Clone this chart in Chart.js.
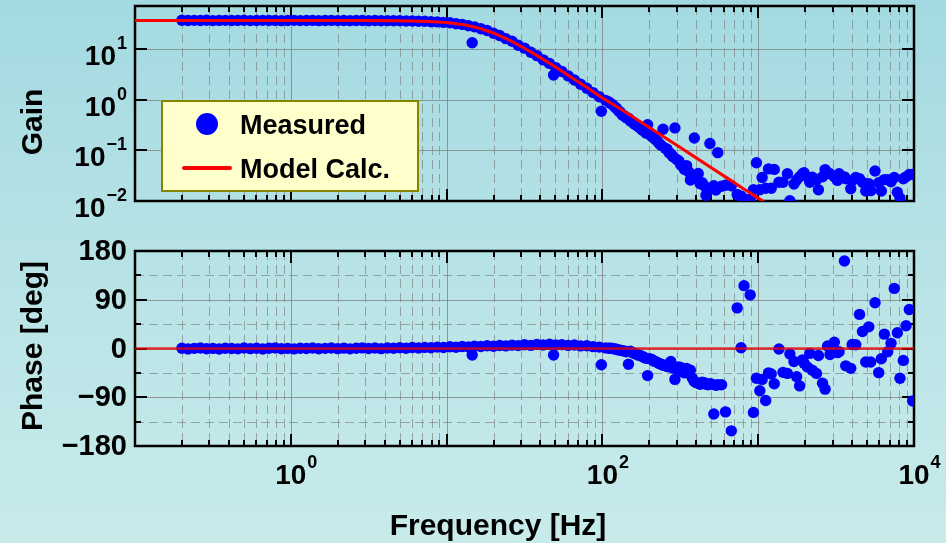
<!DOCTYPE html>
<html><head><meta charset="utf-8">
<script src="https://cdn.jsdelivr.net/npm/chart.js@4.4.1/dist/chart.umd.min.js"></script>
<style>
html,body{margin:0;padding:0;}
body{width:946px;height:543px;overflow:hidden;position:relative;background:linear-gradient(to bottom,#a3dae1 0%,#b8e3e6 50%,#c8ebeb 100%);}
canvas{position:absolute;left:0;}
#gain{top:0;}
#phase{top:230px;}
</style></head><body>
<canvas id="gain" width="946" height="230"></canvas>
<canvas id="phase" width="946" height="313"></canvas>
<script>
// ---------------- DATA ----------------
const freq = [
0.200,0.219,0.240,0.263,0.288,0.316,0.347,0.380,0.417,0.457,
0.501,0.550,0.603,0.661,0.724,0.794,0.871,0.955,1.05,1.15,
1.26,1.38,1.51,1.66,1.82,2.00,2.19,2.40,2.63,2.88,
3.16,3.47,3.80,4.17,4.57,5.01,5.50,6.03,6.61,7.24,
7.94,8.71,9.55,10.5,11.5,12.6,13.8,14.6,15.1,16.6,
18.2,20.0,21.9,24.0,26.3,28.8,31.6,34.7,38.0,41.7,
45.7,48.6,50.1,55.0,60.3,66.1,72.4,79.4,87.1,95.5,
98.5,104.7,110,116,123,130,138,147,155,164,
174,184,195,207,219,232,245,260,275,292,
309,327,347,367,389,412,437,462,490,519,
550,582,617,672,733,776,811,888,932,974,
1024,1060,1117,1165,1213,1268,1359,1443,1540,1597,
1697,1765,1845,1924,1969,2068,2142,2225,2365,2436,
2588,2688,2787,2888,3081,3224,3305,3576,3647,3927,
4010,4228,4470,4670,4900,5128,5275,5623,5934,6170,
6453,6776,7120,7470,7820,8130,8540,8890,9330,9800,
113,120,127,134,142,151,160,169,179,190,
201,213,226,239,253,268,284,300,318,337,
357,378,400,424,450,476,505,535
];
const gainMeasured = [
36.9,36.5,36.8,36.6,36.9,36.4,36.7,36.8,36.5,36.7,
36.9,36.4,36.6,36.8,36.5,36.7,36.3,36.6,36.8,36.4,
36.6,36.7,36.3,36.5,36.7,36.4,36.6,36.3,36.5,36.6,
36.2,36.5,36.1,36.3,36.0,36.1,35.7,35.7,35.3,35.2,
34.6,34.3,33.5,32.9,31.6,30.6,28.8,13.3,27.4,25.1,
23.2,20.5,18.5,16.0,14.2,11.9,10.4,8.6,7.4,6.1,
5.2,3.06,4.3,3.6,2.95,2.45,2.02,1.68,1.38,1.14,
0.59,0.97,0.90,0.80,0.68,0.57,0.48,0.43,0.37,0.32,
0.28,0.245,0.32,0.19,0.165,0.135,0.26,0.105,0.085,0.277,
0.062,0.048,0.050,0.026,0.175,0.035,0.023,0.013,0.136,0.020,
0.090,0.0195,0.0205,0.020,0.0135,0.0125,0.011,0.0108,0.0167,0.057,
0.0167,0.029,0.0178,0.043,0.0178,0.042,0.0235,0.0235,0.0346,0.0101,
0.0217,0.026,0.030,0.0346,0.036,0.030,0.0235,0.0295,0.026,0.0167,
0.030,0.0416,0.036,0.0346,0.030,0.0255,0.0346,0.030,0.0275,0.0174,
0.025,0.029,0.0275,0.0235,0.0157,0.022,0.016,0.039,0.023,0.0157,
0.0264,0.0264,0.024,0.029,0.0149,0.0114,0.0275,0.030,0.0334,0.0334,
0.84,0.72,0.60,0.50,0.44,0.38,0.33,0.30,0.255,0.22,
0.205,0.175,0.15,0.125,0.11,0.09,0.075,0.066,0.052,0.042,
0.038,0.030,0.028,0.022,0.020,0.016,0.018,0.0165
];
const phaseMeasured = [
0.5,-0.8,0.3,1.0,-0.5,0.2,-1.0,0.6,0.0,-0.6,
0.8,-0.3,0.4,-0.9,0.5,1.1,-0.4,0.2,-0.7,0.6,
0.0,0.9,-0.5,0.3,1.0,-0.2,0.7,-0.6,0.4,1.2,
0.1,0.8,-0.3,1.0,0.5,1.5,0.6,1.8,0.9,2.0,
1.4,2.6,1.9,3.2,2.4,3.8,3.0,-12,4.4,3.6,
5.0,4.2,5.6,4.8,6.2,5.4,7.0,5.8,7.6,6.4,
7.8,-12,6.6,7.2,5.8,6.4,4.8,5.0,3.4,2.6,
-30,1.2,0.5,0,-1.5,-3,-4.5,-29,-7,-10,
-13,-16,-50,-20,-24,-28,-31,-33,-24,-57,
-34,-43,-37,-40,-61,-64,-62,-66,-65,-121,
-67,-67,-117,-152,75,1.5,116,99,-118,-55,
-78,-57,-96,-45,-47,-65,-1,-44,-46,-10,
-24,-52,-69,-21,-27,-34,-9,-40,-46,-13,
-64,-75,4.6,-11,11.5,-7.7,-6,161.5,-32,-36.6,
7.5,7,63,31.5,-25,40,-25,84.6,-44.5,-19,
26.5,-6,9.5,111,29,-55,-22,42,72,-97,
0.5,-1,-2.5,-4,-6,-5,-9,-12,-14,-18,
-19,-23,-26,-29,-31,-34,-36,-38,-35,-45,
-42,-55,-63,-66,-63,-67,-66,-68
];
const modelFreq  = [0.1,0.3,1,2,3,5,7,10,13,16,20,25,32,40,50,63,80,100,130,160,200,250,320,400,500,630,800,1000,1250,2000,5000,10000];
const modelGain  = [36.7,36.7,36.7,36.6,36.5,36.0,35.2,33.2,30.0,26.0,20.7,15.2,10.1,6.75,4.40,2.78,1.72,1.08,0.66,0.44,0.283,0.182,0.111,0.071,0.0455,0.0286,0.0177,0.0114,0.0073,0.0029,0.00046,0.000115];
const modelPhase = [0,0,0,0,0,0,0,0,0,0,0,0,0,0,0,0,0,0,0,0,0,0,0,0,0,0,0,0,0,0,0,0];

const gainTickValues = [10, 1, 0.1, 0.01];
const gainTickExps   = ['1', '0', '\u22121', '\u22122'];
const phaseTickValues = [180, 90, 0, -90, -180];
const phaseTickLabels = ['180', '90', '0', '\u221290', '\u2212180'];
const freqTickValues = [1, 100, 10000];
const freqTickExps   = ['0', '2', '4'];
const legendLabels = ['Measured', 'Model Calc.'];

// ---------------- STYLE ----------------
const FONT = '"Liberation Sans", Arial, Helvetica, sans-serif';
const GRID = 'rgba(125,125,125,0.75)';
const GRID_DASH = 'rgba(125,125,125,0.65)';
const DASH = [9, 5];
const X_MIN = 0.1, X_MAX = 10000;

function logTicks(min, max) {
  const out = [];
  for (let e = Math.floor(Math.log10(min)); e <= Math.ceil(Math.log10(max)); e++) {
    for (let m = 1; m <= 9; m++) {
      const v = m * Math.pow(10, e);
      if (v > min * 1.0001 && v < max * 0.9999) out.push([v, m === 1]);
    }
  }
  return out;
}

function drawPow(ctx, base, exp, x, y, align) {
  const big = 'bold 28px ' + FONT, sup = 'bold 18px ' + FONT;
  ctx.font = big; const wb = ctx.measureText(base).width;
  ctx.font = sup; const we = ctx.measureText(exp).width;
  let x0 = align === 'right' ? x - wb - we - 1 : x - wb / 2;
  ctx.textAlign = 'left'; ctx.textBaseline = 'alphabetic';
  ctx.fillStyle = '#000';
  ctx.font = big; ctx.fillText(base, x0, y);
  ctx.font = sup; ctx.fillText(exp, x0 + wb + 1, y - 16);
}

function framePlugin(yGrid, yTicks) {
  return {
    id: 'frame',
    beforeDatasetsDraw(chart) {
      const {ctx, chartArea: a} = chart;
      const xs = chart.scales.x, ys = chart.scales.y;
      const xt = logTicks(X_MIN, X_MAX);
      ctx.save();
      ctx.lineWidth = 1;
      for (const [v, major] of xt) {
        const px = Math.round(xs.getPixelForValue(v)) + 0.5;
        ctx.strokeStyle = major ? GRID : GRID_DASH;
        ctx.setLineDash(major ? [] : DASH);
        ctx.beginPath(); ctx.moveTo(px, a.top); ctx.lineTo(px, a.bottom); ctx.stroke();
      }
      for (const [v, dashed] of yGrid) {
        const py = Math.round(ys.getPixelForValue(v)) + 0.5;
        ctx.strokeStyle = dashed ? GRID_DASH : GRID;
        ctx.setLineDash(dashed ? DASH : []);
        ctx.beginPath(); ctx.moveTo(a.left, py); ctx.lineTo(a.right, py); ctx.stroke();
      }
      ctx.setLineDash([]);
      ctx.strokeStyle = '#000';
      ctx.lineWidth = 2;
      ctx.beginPath();
      for (const [v, major] of xt) {
        const px = Math.round(xs.getPixelForValue(v));
        const len = major ? 12 : 6;
        ctx.moveTo(px, a.bottom); ctx.lineTo(px, a.bottom - len);
        ctx.moveTo(px, a.top); ctx.lineTo(px, a.top + len);
      }
      for (const [v, len] of yTicks) {
        const py = Math.round(ys.getPixelForValue(v));
        ctx.moveTo(a.left, py); ctx.lineTo(a.left + len, py);
        ctx.moveTo(a.right, py); ctx.lineTo(a.right - len, py);
      }
      ctx.stroke();
      ctx.lineWidth = 2.5;
      ctx.strokeRect(a.left, a.top, a.right - a.left, a.bottom - a.top);
      ctx.restore();
    }
  };
}

function rotatedTitle(ctx, text, x, y) {
  ctx.save();
  ctx.translate(x, y); ctx.rotate(-Math.PI / 2);
  ctx.font = 'bold 30px ' + FONT; ctx.fillStyle = '#000';
  ctx.textAlign = 'center'; ctx.textBaseline = 'alphabetic';
  ctx.fillText(text, 0, 0);
  ctx.restore();
}

const gainLabels = {
  id: 'gainLabels',
  afterDraw(chart) {
    const ctx = chart.ctx, ys = chart.scales.y;
    ctx.save();
    gainTickValues.forEach((v, i) => {
      drawPow(ctx, '10', gainTickExps[i], 127, ys.getPixelForValue(v) + 16, 'right');
    });
    rotatedTitle(ctx, 'Gain', 42, 122);
    // legend
    const ds = chart.data.datasets;
    ctx.fillStyle = '#ffffcc'; ctx.strokeStyle = '#858500'; ctx.lineWidth = 2;
    ctx.fillRect(162, 101, 256, 90); ctx.strokeRect(162, 101, 256, 90);
    ctx.fillStyle = ds[1].pointBackgroundColor;
    ctx.beginPath(); ctx.arc(207, 124, 11, 0, Math.PI * 2); ctx.fill();
    ctx.strokeStyle = ds[0].borderColor; ctx.lineWidth = 4; ctx.lineCap = 'round';
    ctx.beginPath(); ctx.moveTo(184, 168); ctx.lineTo(230, 168); ctx.stroke();
    ctx.fillStyle = '#000'; ctx.font = 'bold 27px ' + FONT;
    ctx.textAlign = 'left'; ctx.textBaseline = 'alphabetic';
    ctx.fillText(legendLabels[0], 240, 134);
    ctx.fillText(legendLabels[1], 240, 178);
    ctx.restore();
  }
};

const phaseLabels = {
  id: 'phaseLabels',
  afterDraw(chart) {
    const ctx = chart.ctx, ys = chart.scales.y, xs = chart.scales.x;
    ctx.save();
    ctx.fillStyle = '#000'; ctx.font = 'bold 29px ' + FONT;
    ctx.textAlign = 'right'; ctx.textBaseline = 'middle';
    phaseTickValues.forEach((v, i) => ctx.fillText(phaseTickLabels[i], 127, ys.getPixelForValue(v) + 1));
    freqTickValues.forEach((v, i) => drawPow(ctx, '10', freqTickExps[i], xs.getPixelForValue(v), 254, 'center'));
    rotatedTitle(ctx, 'Phase [deg]', 42, 116);
    ctx.font = 'bold 30px ' + FONT; ctx.textAlign = 'center'; ctx.textBaseline = 'alphabetic';
    ctx.fillText('Frequency [Hz]', 498, 305);
    ctx.restore();
  }
};

const baseOpts = (padding, yScale) => ({
  responsive: false, animation: false, devicePixelRatio: 1, events: [],
  layout: { padding },
  plugins: { legend: { display: false }, tooltip: { enabled: false } },
  scales: { x: { type: 'logarithmic', min: X_MIN, max: X_MAX, display: false }, y: yScale }
});

const measuredStyle = { pointRadius: 5.7, pointBackgroundColor: '#0000ff', pointBorderWidth: 0, backgroundColor: '#0000ff', borderColor: '#0000ff' };

new Chart(document.getElementById('gain'), {
  type: 'scatter',
  data: { datasets: [
    { label: legendLabels[1], data: modelFreq.map((f, i) => ({ x: f, y: modelGain[i] })), showLine: true, borderColor: '#ff0000', borderWidth: 3, pointRadius: 0 },
    Object.assign({ label: legendLabels[0], data: freq.map((f, i) => ({ x: f, y: gainMeasured[i] })) }, measuredStyle)
  ]},
  options: baseOpts({ left: 135, right: 32, top: 6, bottom: 29 }, { type: 'logarithmic', min: 0.01, max: 70.6, display: false }),
  plugins: [framePlugin([[10, false], [1, false], [0.1, false]], [[10, 12], [1, 12], [0.1, 12]]), gainLabels]
});

new Chart(document.getElementById('phase'), {
  type: 'scatter',
  data: { datasets: [
    { label: legendLabels[1], data: modelFreq.map((f, i) => ({ x: f, y: modelPhase[i] })), showLine: true, borderColor: 'rgba(235,0,0,0.8)', borderWidth: 2.5, pointRadius: 0 },
    Object.assign({ label: legendLabels[0], data: freq.map((f, i) => ({ x: f, y: phaseMeasured[i] })) }, measuredStyle)
  ]},
  options: baseOpts({ left: 135, right: 32, top: 21, bottom: 97 }, { type: 'linear', min: -180, max: 180, display: false }),
  plugins: [framePlugin([[135, true], [90, false], [45, true], [0, false], [-45, true], [-90, false], [-135, true]],
                        [[135, 6], [90, 12], [45, 6], [0, 12], [-45, 6], [-90, 12], [-135, 6]]), phaseLabels]
});
</script>
</body></html>
